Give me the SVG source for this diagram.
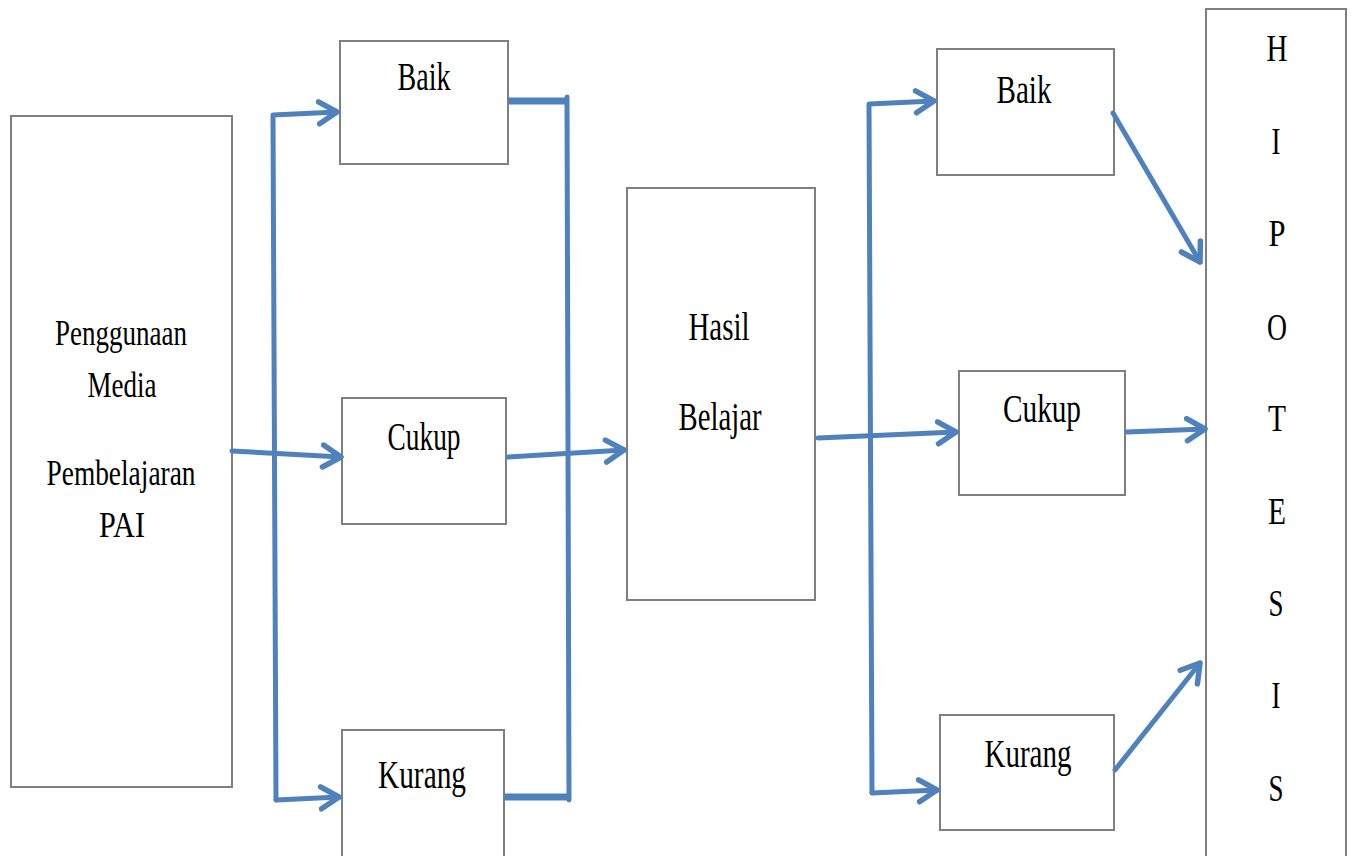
<svg xmlns="http://www.w3.org/2000/svg" width="1351" height="856" viewBox="0 0 1351 856">
<style>
.box{fill:#fff;stroke:#7f7f7f;stroke-width:2}
.t{font-family:"Liberation Serif","Times New Roman",serif;fill:#000;text-anchor:middle}
.c{fill:none;stroke:#4f81bd;stroke-width:5;stroke-linecap:round;stroke-linejoin:round}
.thick{stroke-width:7;stroke-linecap:butt}
</style>
<defs>
<marker id="arr" viewBox="0 0 24 28" refX="21" refY="14" markerWidth="24" markerHeight="28" markerUnits="userSpaceOnUse" orient="auto">
<path d="M3,3 L21,14 L3,25" fill="none" stroke="#4f81bd" stroke-width="5.5" stroke-linecap="round" stroke-linejoin="round"/>
</marker>
</defs>
<rect width="1351" height="856" fill="#fff"/>
<g id="n-penggunaan">
<rect class="box" x="11" y="116" width="221" height="671"/>
<text class="t" font-size="36" x="121" y="345" textLength="132" lengthAdjust="spacingAndGlyphs">Penggunaan</text>
<text class="t" font-size="36" x="122" y="397" textLength="69" lengthAdjust="spacingAndGlyphs">Media</text>
<text class="t" font-size="36" x="121" y="485" textLength="149" lengthAdjust="spacingAndGlyphs">Pembelajaran</text>
<text class="t" font-size="36" x="122" y="537" textLength="46" lengthAdjust="spacingAndGlyphs">PAI</text>
</g>
<g id="n-baik1">
<rect class="box" x="340" y="41" width="168" height="123"/>
<text class="t" font-size="40" x="424" y="90" textLength="53" lengthAdjust="spacingAndGlyphs">Baik</text>
</g>
<g id="n-cukup1">
<rect class="box" x="342" y="398" width="164" height="126"/>
<text class="t" font-size="40" x="424" y="450" textLength="73" lengthAdjust="spacingAndGlyphs">Cukup</text>
</g>
<g id="n-kurang1">
<rect class="box" x="342" y="730" width="162" height="140"/>
<text class="t" font-size="40" x="422" y="788" textLength="88" lengthAdjust="spacingAndGlyphs">Kurang</text>
</g>
<g id="n-hasil">
<rect class="box" x="627" y="188" width="188" height="412"/>
<text class="t" font-size="40" x="719" y="340" textLength="61" lengthAdjust="spacingAndGlyphs">Hasil</text>
<text class="t" font-size="40" x="720" y="430" textLength="83" lengthAdjust="spacingAndGlyphs">Belajar</text>
</g>
<g id="n-baik2">
<rect class="box" x="937" y="49" width="177" height="126"/>
<text class="t" font-size="40" x="1024" y="103" textLength="55" lengthAdjust="spacingAndGlyphs">Baik</text>
</g>
<g id="n-cukup2">
<rect class="box" x="959" y="371" width="166" height="124"/>
<text class="t" font-size="40" x="1042" y="422" textLength="78" lengthAdjust="spacingAndGlyphs">Cukup</text>
</g>
<g id="n-kurang2">
<rect class="box" x="940" y="715" width="174" height="115"/>
<text class="t" font-size="40" x="1028" y="767" textLength="87" lengthAdjust="spacingAndGlyphs">Kurang</text>
</g>
<g id="n-hipotesis">
<rect class="box" x="1206" y="9" width="140" height="870"/>
<g class="t" font-size="38">
<text x="1277" y="61" textLength="21" lengthAdjust="spacingAndGlyphs">H</text>
<text x="1276" y="154" textLength="9" lengthAdjust="spacingAndGlyphs">I</text>
<text x="1277" y="246" textLength="17" lengthAdjust="spacingAndGlyphs">P</text>
<text x="1277" y="340" textLength="20" lengthAdjust="spacingAndGlyphs">O</text>
<text x="1277" y="431" textLength="18" lengthAdjust="spacingAndGlyphs">T</text>
<text x="1277" y="524" textLength="18" lengthAdjust="spacingAndGlyphs">E</text>
<text x="1276" y="616" textLength="15" lengthAdjust="spacingAndGlyphs">S</text>
<text x="1276" y="708" textLength="9" lengthAdjust="spacingAndGlyphs">I</text>
<text x="1276" y="801" textLength="15" lengthAdjust="spacingAndGlyphs">S</text>
</g>
</g>
<g id="connectors">
<path class="c" d="M276,800 L273,115 L337,112" marker-end="url(#arr)"/>
<path class="c" d="M276,800 L339,797" marker-end="url(#arr)"/>
<path class="c" d="M232,451 L341,457" marker-end="url(#arr)"/>
<path class="c thick" d="M508,101 L568,101"/>
<path class="c" d="M567,97 L569,800"/>
<path class="c thick" d="M504,797 L571,797"/>
<path class="c" d="M508,457 L624,450" marker-end="url(#arr)"/>
<path class="c" d="M818,438 L956,432" marker-end="url(#arr)"/>
<path class="c" d="M872,793 L869,104 L934,101" marker-end="url(#arr)"/>
<path class="c" d="M872,793 L937,790" marker-end="url(#arr)"/>
<path class="c" d="M1113,113 L1200,262" marker-end="url(#arr)"/>
<path class="c" d="M1127,432 L1205,429" marker-end="url(#arr)"/>
<path class="c" d="M1115,770 L1200,663" marker-end="url(#arr)"/>
</g>
</svg>
